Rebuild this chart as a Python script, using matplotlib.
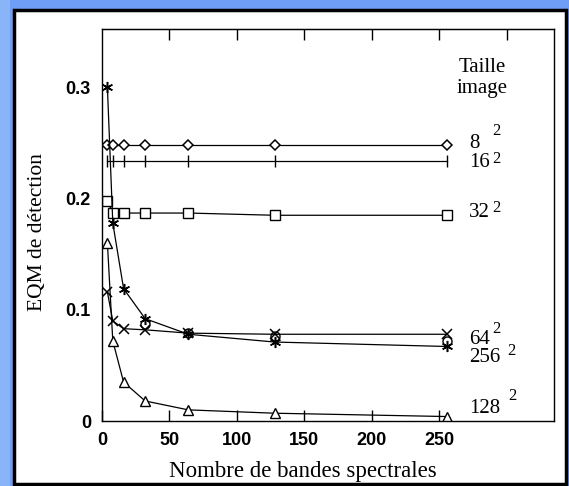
import matplotlib
matplotlib.use("Agg")
import matplotlib.pyplot as plt
from matplotlib.patches import Rectangle

# Nombre de bandes spectrales
bandes = [4, 8, 16, 32, 64, 128, 256]

# EQM de detection pour chaque taille d'image
eqm_8 = [0.248, 0.248, 0.248, 0.248, 0.248, 0.248, 0.248]
eqm_16 = [0.234, 0.234, 0.234, 0.234, 0.234, 0.234, 0.234]
eqm_32 = [0.198, 0.187, 0.187, 0.187, 0.187, 0.185, 0.185]
eqm_64 = [0.116, 0.090, 0.083, 0.082, 0.079, 0.078, 0.078]
eqm_256 = [0.300, 0.178, 0.119, 0.092, 0.078, 0.071, 0.067]
eqm_128 = [0.160, 0.072, 0.035, 0.018, 0.010, 0.007, 0.004]
bandes_cercles = [32, 64, 128, 256]
eqm_cercles = [0.087, 0.079, 0.076, 0.072]

# labels de taille (texte + exposant), positions en coordonnees donnees
tailles = ["8", "16", "32", "64", "256", "128"]
tailles_y = [0.2452, 0.2287, 0.1837, 0.0690, 0.0533, 0.0069]
exposant_x = [289.0, 289.0, 289.0, 289.0, 300.2, 300.9]
exposant_y = [0.2572, 0.2323, 0.1882, 0.0789, 0.0594, 0.0189]

serif = "Liberation Serif"
sans = "Liberation Sans"

fig = plt.figure(figsize=(5.69, 4.86), dpi=100, facecolor="#6e9ef5")
# bande plus claire a gauche
fig.patches.append(Rectangle((0, 0), 10 / 569, 1, transform=fig.transFigure,
                             facecolor="#8ab4f8", edgecolor="none", zorder=-2))
# panneau blanc avec bordure noire
fig.patches.append(Rectangle((13.5 / 569, 2 / 486), 552 / 569, 474 / 486,
                             transform=fig.transFigure, facecolor="white",
                             edgecolor="black", linewidth=2.5, zorder=-1))

ax = fig.add_axes([102 / 569, 1 - 421 / 486, 452 / 569, 392 / 486])
ax.set_zorder(2)
ax.set_xlim(0, 335)
ax.set_ylim(0, 0.3525)

lw = 0.9
ax.plot(bandes, eqm_8, color="black", lw=lw, marker="D", ms=5, mfc="white", mec="black", mew=1.1)
ax.plot(bandes, eqm_16, color="black", lw=lw, marker="|", ms=9, mec="black", mew=1.0)
ax.plot(bandes, eqm_32, color="black", lw=lw, marker="s", ms=7, mfc="white", mec="black", mew=1.0)
ax.plot(bandes, eqm_64, color="black", lw=lw, marker="x", ms=7, mec="black", mew=1.1)
ax.plot(bandes, eqm_256, color="black", lw=lw, marker=(6, 2, 0), ms=8, mec="black", mew=1.1)
ax.plot(bandes_cercles, eqm_cercles, ls="none", marker="o", ms=6.5, mfc="none", mec="black", mew=1.0)
ax.plot(bandes, eqm_128, color="black", lw=lw, marker="^", ms=7, mfc="white", mec="black", mew=1.0)

for spine in ax.spines.values():
    spine.set_linewidth(1.0)

ax.set_xticks([0, 50, 100, 150, 200, 250])
ax.set_yticks([0, 0.1, 0.2, 0.3])
ax.set_yticklabels(["0", "0.1", "0.2", "0.3"])
ax.tick_params(axis="x", direction="in", length=8, width=1, pad=8)
ax.tick_params(axis="y", length=0, pad=8)
for lab in ax.get_xticklabels() + ax.get_yticklabels():
    lab.set_fontfamily(sans)
    lab.set_fontweight("bold")
    lab.set_fontsize(13)

top = ax.secondary_xaxis("top")
top.set_xticks([50, 100, 150, 200, 250, 300])
top.tick_params(direction="in", length=8, width=1, labeltop=False)

ax.set_xlabel("Nombre de bandes spectrales", family=serif, fontsize=16.5)
ax.xaxis.set_label_coords(0.445, -0.103)
ax.set_ylabel("EQM de détection", family=serif, fontsize=15.5)
ax.yaxis.set_label_coords(-0.122, 0.483)

ax.text(281.6, 0.3141, "Taille", family=serif, fontsize=15, ha="center", va="baseline")
ax.text(281.6, 0.2949, "image", family=serif, fontsize=15, ha="center", va="baseline")
for t, y, ex, ey in zip(tailles, tailles_y, exposant_x, exposant_y):
    ax.text(272, y, t, family=serif, fontsize=15, ha="left", va="baseline")
    ax.text(ex, ey, "2", family=serif, fontsize=12, ha="left", va="baseline")

fig.savefig("out.png", dpi=100, facecolor=fig.get_facecolor())
